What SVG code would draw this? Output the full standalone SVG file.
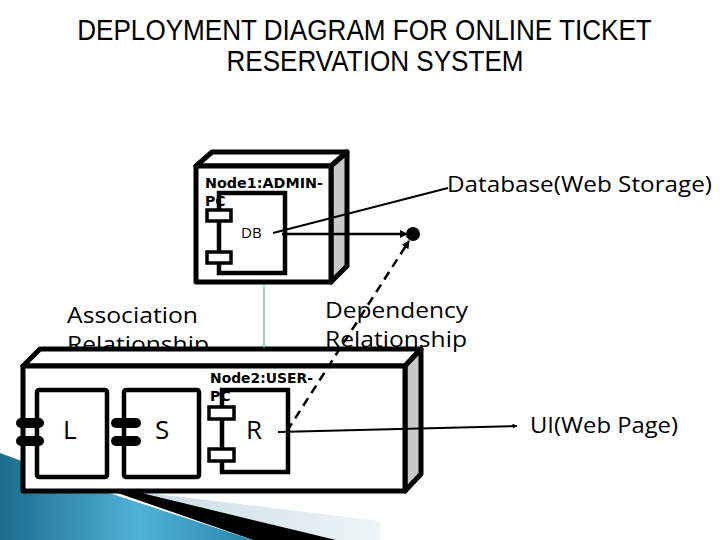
<svg xmlns="http://www.w3.org/2000/svg" width="720" height="540" viewBox="0 0 720 540">
  <defs>
    <linearGradient id="blue" x1="0" y1="0" x2="1" y2="0">
      <stop offset="0" stop-color="#1b6d8d"/>
      <stop offset="0.55" stop-color="#4fb2d6"/>
      <stop offset="1" stop-color="#2a86ad"/>
    </linearGradient>
    <linearGradient id="pale" x1="0" y1="0" x2="1" y2="0">
      <stop offset="0" stop-color="#c9dde6"/>
      <stop offset="1" stop-color="#eef4f7"/>
    </linearGradient>
    <marker id="arr" viewBox="0 0 10 10" refX="9" refY="5" markerWidth="5" markerHeight="5" orient="auto" markerUnits="userSpaceOnUse">
      <path d="M0,0 L10,5 L0,10 z" fill="#000"/>
    </marker>
    <marker id="arrBig" viewBox="0 0 10 10" refX="9" refY="5" markerWidth="8" markerHeight="8" orient="auto" markerUnits="userSpaceOnUse">
      <path d="M0,0 L10,5 L0,10 z" fill="#000"/>
    </marker>
  </defs>
  <style>
    .title { font-family: "Liberation Sans", Arial, sans-serif; font-size: 29px; fill: #000; text-anchor: middle; }
    .lbl { font-family: "Open Sans", "DejaVu Sans", sans-serif; font-size: 22px; fill: #000; }
    .nodename { font-family: "DejaVu Sans", "Liberation Sans", sans-serif; font-size: 14px; font-weight: bold; fill: #000; }
    .comp { fill: #fff; stroke: #000; stroke-width: 4.5; }
    .front { fill: #fff; stroke: #000; stroke-width: 5; stroke-linejoin: round; }
    .side { fill: #c8c8c8; stroke: #000; stroke-width: 5; stroke-linejoin: round; }
    .port { fill: #fff; stroke: #000; stroke-width: 3.5; }
    .pill { fill: #000; }
    .big { font-family: "Open Sans", "DejaVu Sans", sans-serif; font-size: 26px; fill: #000; }
    .small { font-family: "Open Sans", "DejaVu Sans", sans-serif; font-size: 15px; fill: #000; }
  </style>

  <rect width="720" height="540" fill="#fff"/>

  <g id="decoration">
    <polygon points="140,492 380,521 380,540 333,540" fill="url(#pale)"/>
    <polygon points="40,466 150,495 336,540 253,540" fill="#000"/>
    <polygon points="0,453 100,490 253,540 0,540" fill="url(#blue)"/>
  </g>

  <g id="title">
    <text class="title" transform="translate(364.5,40) scale(0.9,1)">DEPLOYMENT DIAGRAM FOR ONLINE TICKET</text>
    <text class="title" transform="translate(375,71) scale(0.9,1)">RESERVATION SYSTEM</text>
  </g>

  <g id="labels">
    <text class="lbl" x="447" y="192" textLength="265" lengthAdjust="spacingAndGlyphs">Database(Web Storage)</text>
    <text class="lbl" x="67" y="323" textLength="131" lengthAdjust="spacingAndGlyphs">Association</text>
    <text class="lbl" x="67" y="352" textLength="142" lengthAdjust="spacingAndGlyphs">Relationship</text>
    <text class="lbl" x="325" y="318" textLength="143" lengthAdjust="spacingAndGlyphs">Dependency</text>
    <text class="lbl" x="325" y="347" textLength="142" lengthAdjust="spacingAndGlyphs">Relationship</text>
    <text class="lbl" x="530" y="433" textLength="148" lengthAdjust="spacingAndGlyphs">UI(Web Page)</text>
  </g>

  <g id="node1">
    <polygon class="front" points="196,166 212,152 347,152 331,166"/>
    <polygon class="side" points="331,166 347,152 347,266 331,282"/>
    <rect class="front" x="196" y="166" width="135" height="116"/>
    <g id="db">
      <rect class="comp" x="219" y="193" width="66" height="80"/>
      <rect class="port" x="207" y="210" width="24" height="11"/>
      <rect class="port" x="207" y="252" width="24" height="11"/>
      <text class="small" x="241" y="238">DB</text>
    </g>
    <text class="nodename" x="205" y="188" textLength="118" lengthAdjust="spacingAndGlyphs">Node1:ADMIN-</text>
    <text class="nodename" x="205" y="206">PC</text>
  </g>

  <g id="node2">
    <polygon class="front" points="23,366 40,349 421,349 405,366"/>
    <polygon class="side" points="405,366 421,349 421,474 405,491"/>
    <rect class="front" x="23" y="366" width="382" height="125"/>
    <g id="comp-L">
      <rect class="comp" x="37" y="390" width="70" height="87" rx="2"/>
      <rect class="pill" x="16" y="418" width="28" height="10" rx="5"/>
      <rect class="pill" x="16" y="436" width="28" height="10" rx="5"/>
      <text class="big" x="63" y="439">L</text>
    </g>
    <g id="comp-S">
      <rect class="comp" x="124" y="390" width="75" height="87" rx="2"/>
      <rect class="pill" x="111" y="418" width="30" height="10" rx="5"/>
      <rect class="pill" x="111" y="436" width="30" height="10" rx="5"/>
      <text class="big" x="155" y="439">S</text>
    </g>
    <g id="comp-R">
      <rect class="comp" x="222" y="390" width="66" height="82"/>
      <rect class="port" x="209" y="407" width="25" height="12"/>
      <rect class="port" x="209" y="449" width="25" height="12"/>
      <text class="big" x="246" y="439">R</text>
    </g>
    <text class="nodename" x="210" y="383" textLength="103" lengthAdjust="spacingAndGlyphs">Node2:USER-</text>
    <text class="nodename" x="210" y="401">PC</text>
  </g>

  <g id="db-endpoint">
    <circle cx="413" cy="234" r="7" fill="#000"/>
  </g>

  <g id="connectors" fill="none" stroke="#000">
    <line x1="264" y1="285" x2="264" y2="348" stroke="#6fa9b8" stroke-width="1.2"/>
    <line x1="273" y1="233" x2="448" y2="188" stroke-width="2"/>
    <line x1="282" y1="234" x2="407" y2="234" stroke-width="2.5" marker-end="url(#arrBig)"/>
    <line x1="287" y1="431" x2="409" y2="241" stroke-width="2.5" stroke-dasharray="9,6" marker-end="url(#arrBig)"/>
    <line x1="278" y1="432" x2="517" y2="426" stroke-width="2" marker-end="url(#arr)"/>
  </g>
</svg>
